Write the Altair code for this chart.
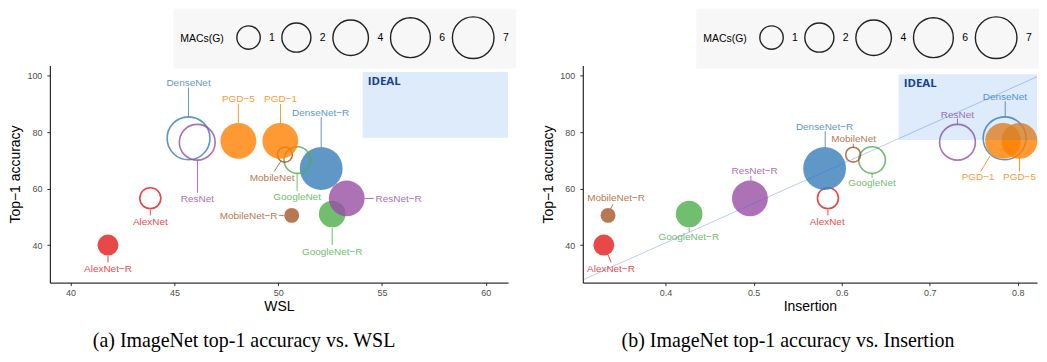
import altair as alt
import pandas as pd

# ---------------- data ----------------
models = ["AlexNet", "AlexNet−R", "DenseNet", "DenseNet−R", "GoogleNet", "GoogleNet−R",
          "MobileNet", "MobileNet−R", "ResNet", "ResNet−R", "PGD−1", "PGD−5"]
family = ["AlexNet", "AlexNet", "DenseNet", "DenseNet", "GoogleNet", "GoogleNet",
          "MobileNet", "MobileNet", "ResNet", "ResNet", "PGD", "PGD"]
robust = [False, True, False, True, False, True, False, True, False, True, True, True]
macs = [0.72, 0.72, 7.8, 7.8, 1.5, 1.5, 0.3, 0.3, 4.1, 4.1, 4.1, 4.1]
top1 = [56.6, 40.0, 77.8, 67.1, 70.1, 51.0, 72.0, 50.5, 76.4, 56.5, 76.9, 76.9]

wsl = [43.84, 41.80, 45.68, 52.07, 50.92, 52.60, 50.32, 50.65, 46.10, 53.30, 50.10, 48.08]
insertion = [0.5844, 0.3299, 0.7850, 0.5806, 0.6345, 0.4268, 0.6130, 0.3347, 0.7315, 0.4958, 0.7832, 0.8019]

# label anchors (repelled label positions) and leader segments, in data units
wsl_lab_x = [43.84, 41.80, 45.68, 52.04, 50.91, 52.60, 49.71, 48.57, 46.11, 55.80, 50.11, 48.08]
wsl_lab_y = [48.3, 31.6, 97.4, 86.9, 56.9, 37.7, 63.9, 50.4, 56.2, 56.2, 91.6, 91.6]
wsl_seg_x0 = [43.84, 41.80, 45.68, 52.07, 50.91, 52.60, 50.14, 50.27, 46.11, 54.17, 50.11, 48.08]
wsl_seg_y0 = [52.5, 36.2, 85.4, 74.7, 65.3, 46.1, 69.8, 50.5, 70.2, 56.5, 83.2, 83.2]
wsl_seg_x1 = [43.84, 41.80, 45.68, 52.07, 50.91, 52.60, 49.80, 50.04, 46.11, 54.60, 50.11, 48.08]
wsl_seg_y1 = [50.5, 33.8, 95.8, 85.3, 59.2, 40.0, 66.0, 50.5, 58.5, 56.5, 90.0, 90.0]

ins_lab_x = [0.5836, 0.3380, 0.7854, 0.5805, 0.6345, 0.4264, 0.6135, 0.3438, 0.7314, 0.5012, 0.7549, 0.8019]
ins_lab_y = [48.3, 31.6, 92.4, 81.9, 61.9, 42.7, 77.6, 56.6, 86.2, 66.2, 64.0, 64.0]
ins_seg_x0 = [0.5844, 0.3347, 0.7857, 0.5813, 0.6345, 0.4268, 0.6132, 0.3374, 0.7315, 0.4969, 0.7684, 0.8019]
ins_seg_y0 = [52.5, 36.6, 85.3, 74.7, 65.3, 46.2, 74.5, 52.7, 82.5, 62.7, 71.5, 70.8]
ins_seg_x1 = [0.5844, 0.3381, 0.7857, 0.5813, 0.6345, 0.4268, 0.6132, 0.3404, 0.7315, 0.4969, 0.7578, 0.8019]
ins_seg_y1 = [50.5, 33.9, 90.9, 80.3, 63.8, 44.7, 75.9, 54.5, 84.8, 64.5, 66.0, 66.0]

legend_values = [1, 2, 4, 6, 7]
ideal_label = "IDEAL"
ideal_wsl_x = [54.07, 61.07]
ideal_wsl_y = [78.0, 101.3]
ideal_ins_x = [0.6647, 0.8218]
ideal_ins_y = [77.2, 100.5]
trend_x = [0.307, 0.8218]
trend_y = [27.8, 99.6]

wsl_ticks = [40, 45, 50, 55, 60]
ins_ticks = [0.4, 0.5, 0.6, 0.7, 0.8]
acc_ticks = [40, 60, 80, 100]

palette = {"AlexNet": "#E41A1C", "DenseNet": "#377EB8", "GoogleNet": "#4DAF4A",
           "MobileNet": "#A65628", "ResNet": "#984EA3", "PGD": "#FF7F00"}

FONT = "Liberation Sans"
Y_DOMAIN = [26.7, 103.6]


def panel(xvals, lab_x, lab_y, sx0, sy0, sx1, sy1, ideal_x, ideal_y, xtitle,
          xdomain, xticks, xfmt, width, legend_x, caption, cap_dx, trend=None):
    cols = [palette[f] for f in family]
    df = pd.DataFrame({
        "model": models, "x": xvals, "acc": top1, "macs": macs,
        "col": cols,
        "fillc": [c if r else "transparent" for c, r in zip(cols, robust)],
        "strokec": ["transparent" if r else c for c, r in zip(cols, robust)],
        "sw": [0 if r else 1.6 for r in robust],
        "lx": lab_x, "ly": lab_y,
        "sx0": sx0, "sy0": sy0, "sx1": sx1, "sy1": sy1,
    })
    xs = alt.Scale(domain=xdomain, nice=False, zero=False)
    ys = alt.Scale(domain=Y_DOMAIN, nice=False, zero=False)
    xaxis = alt.Axis(values=xticks, format=xfmt, grid=False, tickSize=3,
                     labelPadding=3, titlePadding=2)
    yaxis = alt.Axis(values=acc_ticks, grid=False, tickSize=3,
                     labelPadding=5, titlePadding=4)

    def X(f):
        return alt.X(f, scale=xs, axis=xaxis, title=xtitle)

    def Y(f):
        return alt.Y(f, scale=ys, axis=yaxis, title="Top−1 accuracy")

    base = alt.Chart(df)
    points = base.mark_point(shape="circle", opacity=0.8).encode(
        x=X("x:Q"), y=Y("acc:Q"),
        size=alt.Size("macs:Q",
                      scale=alt.Scale(type="sqrt", domain=[0.3, 7.8], range=[225, 1849], zero=False),
                      legend=alt.Legend(
                          title="MACs(G)", values=legend_values, orient="none",
                          legendX=legend_x, legendY=-57, direction="horizontal",
                          titleOrient="left", titleAnchor="middle", titleBaseline="middle",
                          titleFont=FONT, titleFontSize=10.5, titleFontWeight="normal",
                          titleColor="black", titlePadding=12,
                          labelFont=FONT, labelFontSize=10.5, labelColor="black",
                          labelOffset=8, symbolType="circle",
                          symbolFillColor="transparent", symbolStrokeColor="#222222",
                          symbolStrokeWidth=1.4, symbolOpacity=1,
                          fillColor="#F7F7F7", padding=7, columnPadding=4)),
        fill=alt.Fill("fillc:N", scale=None),
        stroke=alt.Stroke("strokec:N", scale=None),
        strokeWidth=alt.StrokeWidth("sw:Q", scale=None),
    )
    rules = base.mark_rule(strokeWidth=1, opacity=0.8).encode(
        x=X("sx0:Q"), y=Y("sy0:Q"), x2="sx1:Q", y2="sy1:Q",
        color=alt.Color("col:N", scale=None))
    texts = base.mark_text(font=FONT, fontSize=10, opacity=0.8,
                           align="center", baseline="middle").encode(
        x=X("lx:Q"), y=Y("ly:Q"), text="model:N",
        color=alt.Color("col:N", scale=None))

    idf = pd.DataFrame({"x0": [ideal_x[0]], "x1": [ideal_x[1]],
                        "y0": [ideal_y[0]], "y1": [ideal_y[1]], "label": [ideal_label]})
    box = alt.Chart(idf).mark_rect(color="#1E78E6", opacity=0.15).encode(
        x=X("x0:Q"), x2="x1:Q", y=Y("y0:Q"), y2="y1:Q")
    itext = alt.Chart(idf).mark_text(align="left", baseline="middle", dx=5, dy=10,
                                     font="Open Sans", fontWeight="bold", fontSize=11.5,
                                     color="#163F94").encode(
        x=X("x0:Q"), y=Y("y1:Q"), text="label:N")

    layers = [points, rules, texts, box, itext]
    if trend is not None:
        tdf = pd.DataFrame({"tx": trend[0], "ty": trend[1]})
        line = alt.Chart(tdf).mark_line(color="#4169E1", opacity=0.35, strokeWidth=1,
                                        clip=True).encode(x=X("tx:Q"), y=Y("ty:Q"))
        layers.append(line)

    return alt.layer(*layers).properties(
        width=width, height=218,
        title=alt.TitleParams(caption, orient="bottom", anchor="middle", frame="group",
                              font="Liberation Serif", fontSize=20, fontWeight="normal",
                              color="black", dx=cap_dx, offset=18))


left = panel(wsl, wsl_lab_x, wsl_lab_y, wsl_seg_x0, wsl_seg_y0, wsl_seg_x1, wsl_seg_y1,
             ideal_wsl_x, ideal_wsl_y, "WSL", [39.0, 61.07], wsl_ticks, "d", 460, 124,
             "(a) ImageNet top-1 accuracy vs. WSL", -35)
right = panel(insertion, ins_lab_x, ins_lab_y, ins_seg_x0, ins_seg_y0, ins_seg_x1, ins_seg_y1,
              ideal_ins_x, ideal_ins_y, "Insertion", [0.306, 0.8218], ins_ticks, ".1f", 456, 114,
              "(b) ImageNet top-1 accuracy vs. Insertion", -22, trend=(trend_x, trend_y))

chart = alt.hconcat(left, right, spacing=25).resolve_scale(
    size="independent").resolve_legend(size="independent").properties(
    padding={"left": 0, "top": 0, "right": 0, "bottom": 0}
).configure_view(stroke=None).configure_axis(
    domainColor="black", domainWidth=1, tickColor="#333333", tickWidth=1,
    labelFont=FONT, labelFontSize=9, labelColor="#4D4D4D",
    titleFont=FONT, titleFontSize=14, titleFontWeight="normal", titleColor="black"
)

chart.save("out.html", embed_options={"renderer": "svg", "actions": False})
